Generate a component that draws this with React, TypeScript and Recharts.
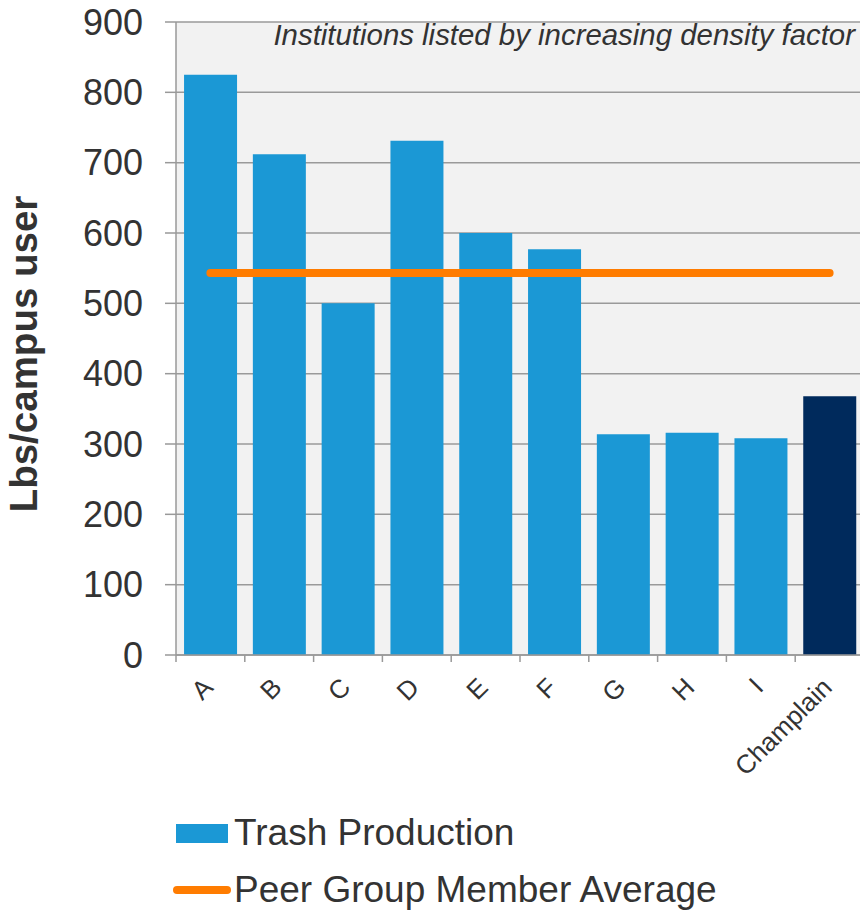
import { ComposedChart, Bar, Line, XAxis, YAxis, CartesianGrid, Legend, Cell } from 'recharts';

const categories = ['A', 'B', 'C', 'D', 'E', 'F', 'G', 'H', 'I', 'Champlain'];
const trashProduction = [825, 712, 500, 731, 600, 577, 314, 316, 308, 368];
const peerAverage = [543, 543, 543, 543, 543, 543, 543, 543, 543, 543];
const yTicks = [0, 100, 200, 300, 400, 500, 600, 700, 800, 900];

const FONT = '"Liberation Sans", Arial, sans-serif';
const TEXT = '#333333';
const AXIS = '#999999';
const BLUE = '#1b98d5';
const NAVY = '#002a5c';
const ORANGE = '#ff7c00';

const data = categories.map((name, i) => ({
    name,
    trash: trashProduction[i],
    avg: peerAverage[i],
}));

// boundary tick + rotated label for each category
function XTick(props: any) {
    const { x, y, payload } = props;
    const half = payload && payload.offset ? payload.offset : 34.4;
    const tx = x + 4;
    const ty = y + 27;
    return (
        <g>
            <line x1={x - half} y1={y - 7} x2={x - half} y2={y} stroke={AXIS} strokeWidth={1.5} />
            <text
                x={tx}
                y={ty}
                transform={`rotate(-45 ${tx} ${ty})`}
                textAnchor="end"
                fontSize={26}
                fontFamily={FONT}
                fill={TEXT}
            >
                {payload.value}
            </text>
        </g>
    );
}

function LegendBox() {
    return (
        <svg width={860} height={112} style={{ display: 'block' }}>
            <rect x={176} y={24} width={52} height={19} fill={BLUE} />
            <text x={234} y={45} fontSize={37} fontFamily={FONT} fill={TEXT}>Trash Production</text>
            <line x1={177} y1={90} x2={227} y2={90} stroke={ORANGE} strokeWidth={8} strokeLinecap="round" />
            <text x={234} y={102} fontSize={37} fontFamily={FONT} fill={TEXT}>Peer Group Member Average</text>
        </svg>
    );
}

export default function App() {
    return (
        <div style={{ position: 'absolute', left: 0, top: 0, width: 860, height: 912, overflow: 'hidden', background: '#fff' }}>
            <ComposedChart
                width={870}
                height={912}
                data={data}
                margin={{ top: 22, right: 6, left: 0, bottom: 0 }}
                barCategoryGap="11.7%"
            >
                <CartesianGrid vertical={false} stroke="#9a9a9a" strokeWidth={1.5} fill="#f2f2f2" />
                <XAxis
                    dataKey="name"
                    height={257}
                    tickLine={false}
                    tickSize={7}
                    tickMargin={0}
                    axisLine={{ stroke: AXIS, strokeWidth: 1.5 }}
                    tick={<XTick />}
                    interval={0}
                />
                <YAxis
                    width={176}
                    domain={[0, 900]}
                    ticks={yTicks}
                    tickSize={11}
                    tickMargin={22}
                    tickLine={{ stroke: AXIS, strokeWidth: 1.5 }}
                    axisLine={{ stroke: AXIS, strokeWidth: 1.5 }}
                    tick={{ fontSize: 36, fontFamily: FONT, fill: TEXT }}
                />
                <Bar dataKey="trash" name="Trash Production" fill={BLUE} isAnimationActive={false}>
                    {data.map((d, i) => (
                        <Cell key={i} fill={d.name === 'Champlain' ? NAVY : BLUE} />
                    ))}
                </Bar>
                <Line
                    type="linear"
                    dataKey="avg"
                    name="Peer Group Member Average"
                    stroke={ORANGE}
                    strokeWidth={8}
                    strokeLinecap="round"
                    dot={false}
                    activeDot={false}
                    isAnimationActive={false}
                />
                <Legend
                    layout="horizontal"
                    verticalAlign="middle"
                    align="center"
                    content={<LegendBox />}
                    wrapperStyle={{ left: 0, top: 800, width: 860, height: 112 }}
                />
                <text x={855} y={45} textAnchor="end" fontSize={29.4} fontStyle="italic" fontFamily={FONT} fill={TEXT}>
                    Institutions listed by increasing density factor
                </text>
                <text
                    x={37}
                    y={354}
                    transform="rotate(-90 37 354)"
                    textAnchor="middle"
                    fontSize={38.5}
                    fontWeight="bold"
                    fontFamily={FONT}
                    fill={TEXT}
                >
                    Lbs/campus user
                </text>
            </ComposedChart>
        </div>
    );
}
